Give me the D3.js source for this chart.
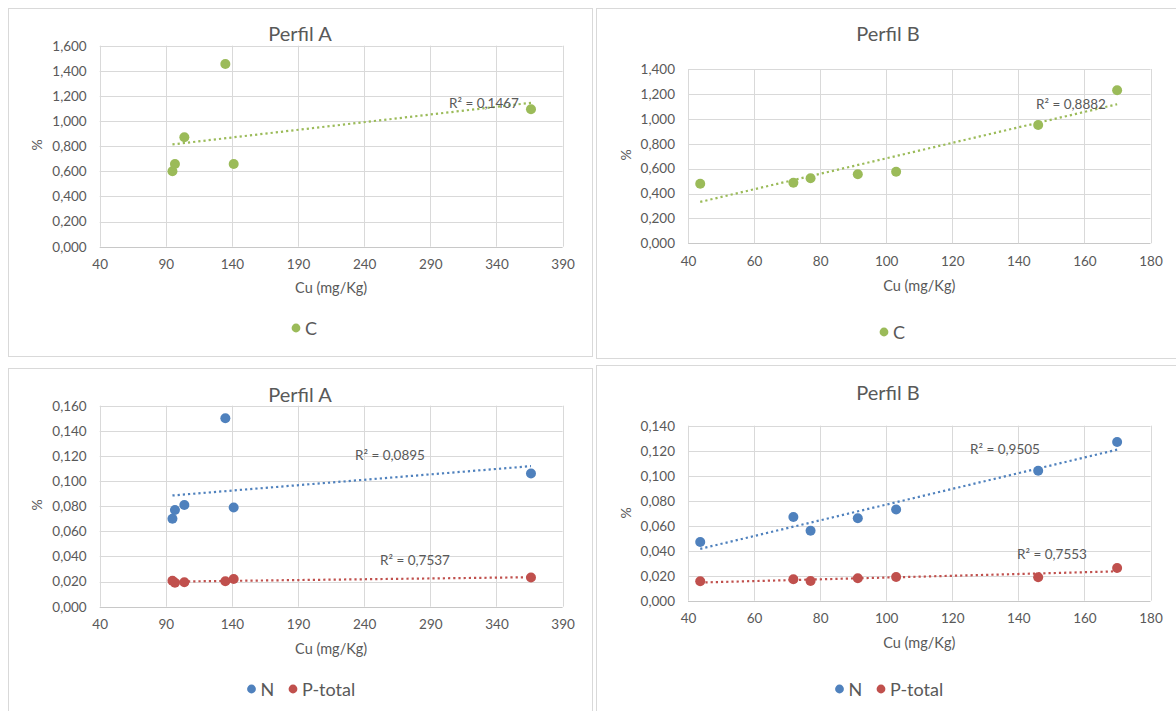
<!DOCTYPE html>
<html>
<head>
<meta charset="utf-8">
<script src="https://cdn.jsdelivr.net/npm/d3@7"></script>
<style>
  html, body { margin: 0; padding: 0; background: #fff; }
  svg { display: block; font-family: Lato, "Open Sans", sans-serif; }
</style>
</head>
<body>
<svg id="chart" width="1176" height="711"></svg>
<script>
// Cu (mg/Kg) per sample, profile A and profile B
const cuA = [95.0, 96.9, 104.0, 135.0, 141.3, 366.1];
const cuB = [43.7, 71.9, 77.1, 91.4, 103.0, 146.0, 169.9];

// Carbon (%)
const carbonA = [0.600, 0.658, 0.871, 1.455, 0.658, 1.094];
const carbonB = [0.479, 0.487, 0.522, 0.554, 0.575, 0.950, 1.229];

// Nitrogen (%)
const nitrogenA = [0.070, 0.077, 0.081, 0.150, 0.079, 0.106];
const nitrogenB = [0.047, 0.067, 0.056, 0.066, 0.073, 0.104, 0.127];

// Total phosphorus (%)
const phosphorusA = [0.0207, 0.0191, 0.0194, 0.0202, 0.0220, 0.0233];
const phosphorusB = [0.0155, 0.0171, 0.0157, 0.0179, 0.0189, 0.0187, 0.0261];

// Coefficients of determination printed next to each trendline
const r2CarbonA = "R² = 0,1467";
const r2CarbonB = "R² = 0,8882";
const r2NitrogenA = "R² = 0,0895";
const r2PhosphorusA = "R² = 0,7537";
const r2NitrogenB = "R² = 0,9505";
const r2PhosphorusB = "R² = 0,7553";

// Axis ticks
const xTicksA = [40, 90, 140, 190, 240, 290, 340, 390];
const xTicksB = [40, 60, 80, 100, 120, 140, 160, 180];
const yTicksCarbonA = [0, 0.2, 0.4, 0.6, 0.8, 1.0, 1.2, 1.4, 1.6];
const yTicksCarbonB = [0, 0.2, 0.4, 0.6, 0.8, 1.0, 1.2, 1.4];
const yTicksNPA = [0, 0.02, 0.04, 0.06, 0.08, 0.10, 0.12, 0.14, 0.16];
const yTicksNPB = [0, 0.02, 0.04, 0.06, 0.08, 0.10, 0.12, 0.14];

const seriesNames = ["C", "N", "P-total"];
const colorC = "#9BBB59", colorN = "#4F81BD", colorP = "#C0504D";

const svg = d3.select("#chart");
const fmt = v => d3.format(".3f")(v).replace(".", ",");
const textColor = "#595959";
const gridColor = "#D9D9D9";

// Least-squares line over the x range of the series
function linearFit(xs, ys) {
  const n = xs.length;
  const mx = d3.mean(xs), my = d3.mean(ys);
  let sxy = 0, sxx = 0;
  for (let i = 0; i < n; i++) {
    sxy += (xs[i] - mx) * (ys[i] - my);
    sxx += (xs[i] - mx) ** 2;
  }
  const b = sxy / sxx, a = my - b * mx;
  const x0 = d3.min(xs), x1 = d3.max(xs);
  return [[x0, a + b * x0], [x1, a + b * x1]];
}

function drawPanel(cfg) {
  const g = svg.append("g");

  // chart frame
  g.append("rect")
    .attr("x", cfg.frame[0] + 0.5).attr("y", cfg.frame[1] + 0.5)
    .attr("width", cfg.frame[2]).attr("height", cfg.frame[3])
    .attr("fill", "#fff").attr("stroke", gridColor).attr("stroke-width", 1);

  const x = d3.scaleLinear().domain(d3.extent(cfg.xTicks)).range([cfg.plot.left, cfg.plot.right]);
  const y = d3.scaleLinear().domain(d3.extent(cfg.yTicks)).range([cfg.plot.bottom, cfg.plot.top]);

  // gridlines
  const grid = g.append("g");
  grid.selectAll(".h").data(cfg.yTicks).join("line")
    .attr("x1", cfg.plot.left).attr("x2", cfg.plot.right)
    .attr("y1", d => Math.round(y(d)) + 0.5).attr("y2", d => Math.round(y(d)) + 0.5)
    .attr("stroke", (d, i) => i === 0 ? "#C8C8C8" : gridColor).attr("stroke-width", 1);
  grid.selectAll(".v").data(cfg.xTicks).join("line")
    .attr("y1", cfg.plot.top).attr("y2", cfg.plot.bottom)
    .attr("x1", d => Math.round(x(d)) + 0.5).attr("x2", d => Math.round(x(d)) + 0.5)
    .attr("stroke", gridColor).attr("stroke-width", 1);

  // axes (labels only, lines come from the grid)
  const yAxis = d3.axisLeft(y).tickValues(cfg.yTicks).tickFormat(fmt).tickSize(0).tickPadding(13);
  const ya = g.append("g").attr("transform", `translate(${cfg.plot.left},0)`).call(yAxis);
  const xAxis = d3.axisBottom(x).tickValues(cfg.xTicks).tickFormat(d3.format("d")).tickSize(0).tickPadding(13);
  const xa = g.append("g").attr("transform", `translate(0,${cfg.plot.bottom})`).call(xAxis);
  [ya, xa].forEach(a => {
    a.select(".domain").remove();
    a.selectAll("text").attr("fill", textColor).style("font-size", "13.5px")
      .style("font-family", "Lato, 'Open Sans', sans-serif");
  });

  // title
  g.append("text").attr("x", cfg.titlePos[0]).attr("y", cfg.titlePos[1])
    .attr("text-anchor", "middle").attr("fill", textColor).style("font-size", "20px").text(cfg.title);

  // axis titles
  g.append("text").attr("x", (cfg.plot.left + cfg.plot.right) / 2).attr("y", cfg.xTitleY)
    .attr("text-anchor", "middle").attr("fill", textColor).style("font-size", "14.5px").text("Cu (mg/Kg)");
  g.append("text")
    .attr("transform", `translate(${cfg.yTitlePos[0]},${cfg.yTitlePos[1]}) rotate(-90)`)
    .attr("text-anchor", "middle").attr("fill", textColor).style("font-size", "14px").text("%");

  // series: trendlines, markers, R² labels
  cfg.series.forEach(s => {
    const fit = linearFit(cfg.xs, s.values);
    g.append("line")
      .attr("x1", x(fit[0][0])).attr("y1", y(fit[0][1]))
      .attr("x2", x(fit[1][0])).attr("y2", y(fit[1][1]))
      .attr("stroke", s.color).attr("stroke-width", 2.2)
      .attr("stroke-dasharray", "2.2,3");
  });
  cfg.series.forEach(s => {
    g.append("g").selectAll("circle").data(s.values).join("circle")
      .attr("cx", (d, i) => x(cfg.xs[i])).attr("cy", d => y(d))
      .attr("r", 5).attr("fill", s.color);
  });
  cfg.series.forEach(s => {
    g.append("text").attr("x", s.r2Pos[0]).attr("y", s.r2Pos[1])
      .attr("fill", textColor).style("font-size", "13.5px").text(s.r2);
  });

  // legend
  cfg.series.forEach(s => {
    g.append("circle").attr("cx", s.legend[0]).attr("cy", cfg.legendY).attr("r", 4.4).attr("fill", s.color);
    g.append("text").attr("x", s.legend[0] + 9).attr("y", cfg.legendY + 6.5)
      .attr("fill", textColor).style("font-size", "18px").text(s.name);
  });
}

// Perfil A — carbon
drawPanel({
  frame: [8, 8, 584, 348],
  plot: { left: 99.7, right: 562.6, top: 45.7, bottom: 246.7 },
  xTicks: xTicksA, yTicks: yTicksCarbonA, xs: cuA,
  title: "Perfil A", titlePos: [300, 41], xTitleY: 293, yTitlePos: [42, 145],
  legendY: 328,
  series: [{ name: seriesNames[0], values: carbonA, color: colorC, r2: r2CarbonA, r2Pos: [449, 108], legend: [296] }]
});

// Perfil B — carbon
drawPanel({
  frame: [596, 8, 590, 350],
  plot: { left: 688, right: 1150.5, top: 69, bottom: 243.3 },
  xTicks: xTicksB, yTicks: yTicksCarbonB, xs: cuB,
  title: "Perfil B", titlePos: [888, 41], xTitleY: 291, yTitlePos: [631, 155],
  legendY: 332,
  series: [{ name: seriesNames[0], values: carbonB, color: colorC, r2: r2CarbonB, r2Pos: [1036, 109], legend: [884] }]
});

// Perfil A — nitrogen and total phosphorus
drawPanel({
  frame: [8, 368, 584, 360],
  plot: { left: 99.7, right: 562.6, top: 405.7, bottom: 606.7 },
  xTicks: xTicksA, yTicks: yTicksNPA, xs: cuA,
  title: "Perfil A", titlePos: [300, 402], xTitleY: 654, yTitlePos: [42, 505],
  legendY: 689,
  series: [
    { name: seriesNames[1], values: nitrogenA, color: colorN, r2: r2NitrogenA, r2Pos: [355, 460], legend: [251.5] },
    { name: seriesNames[2], values: phosphorusA, color: colorP, r2: r2PhosphorusA, r2Pos: [380, 565], legend: [293] }
  ]
});

// Perfil B — nitrogen and total phosphorus
drawPanel({
  frame: [596, 365, 590, 360],
  plot: { left: 688, right: 1150.5, top: 425.7, bottom: 600.7 },
  xTicks: xTicksB, yTicks: yTicksNPB, xs: cuB,
  title: "Perfil B", titlePos: [888, 400], xTitleY: 648, yTitlePos: [631, 513],
  legendY: 689,
  series: [
    { name: seriesNames[1], values: nitrogenB, color: colorN, r2: r2NitrogenB, r2Pos: [970, 454], legend: [839.5] },
    { name: seriesNames[2], values: phosphorusB, color: colorP, r2: r2PhosphorusB, r2Pos: [1017, 559], legend: [881] }
  ]
});
</script>
</body>
</html>
